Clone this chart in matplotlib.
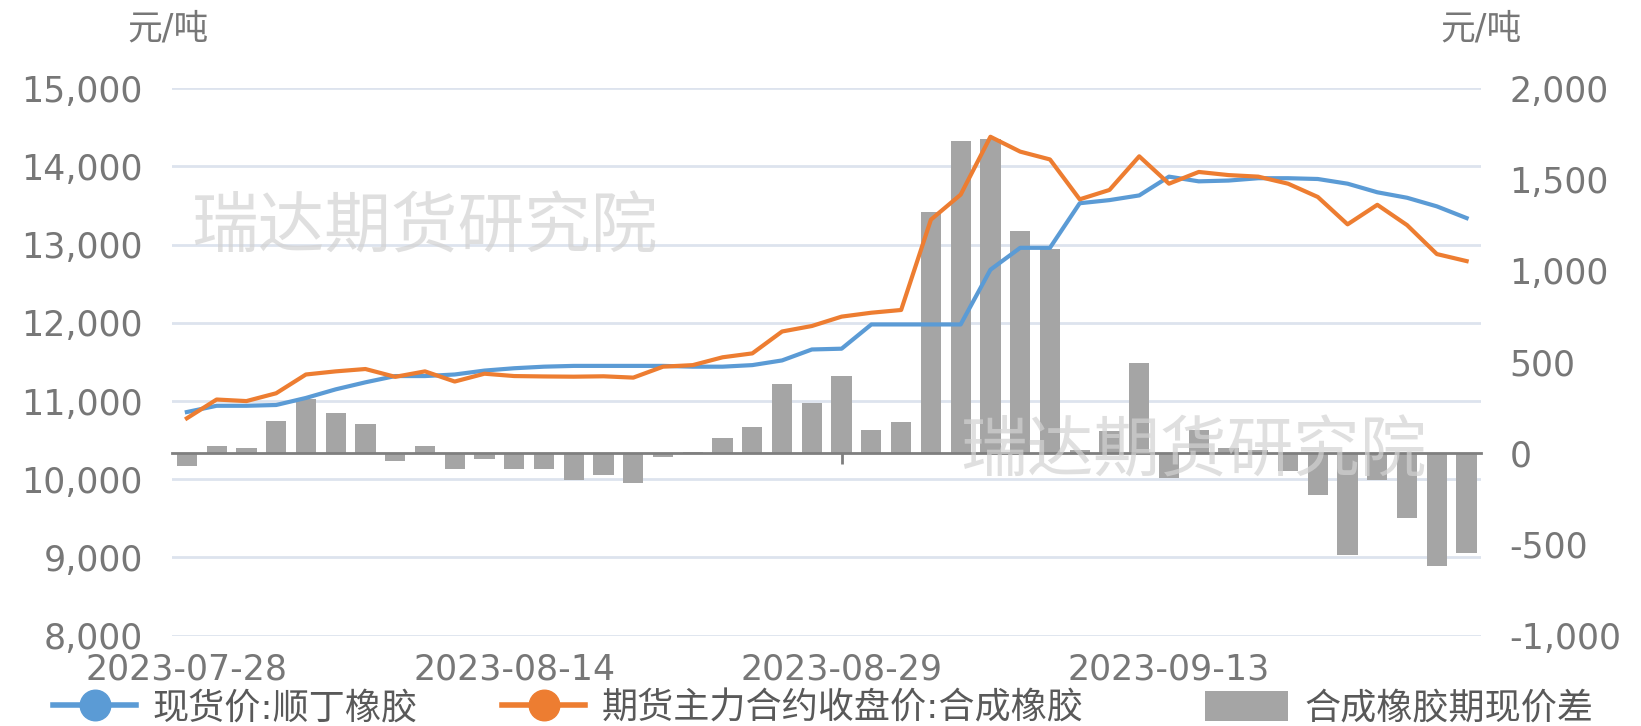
import matplotlib
matplotlib.use('Agg')
import matplotlib.pyplot as plt
from matplotlib.lines import Line2D
from matplotlib.patches import Patch
from matplotlib.ticker import FuncFormatter

plt.rcParams['font.family'] = ['DejaVu Sans', 'Noto Sans CJK SC']

# trading days shown on the category axis
dates = ['2023-07-28', '2023-07-31', '2023-08-01', '2023-08-02', '2023-08-03',
         '2023-08-04', '2023-08-07', '2023-08-08', '2023-08-09', '2023-08-10',
         '2023-08-11', '2023-08-14', '2023-08-15', '2023-08-16', '2023-08-17',
         '2023-08-18', '2023-08-21', '2023-08-22', '2023-08-23', '2023-08-24',
         '2023-08-25', '2023-08-28', '2023-08-29', '2023-08-30', '2023-08-31',
         '2023-09-01', '2023-09-04', '2023-09-05', '2023-09-06', '2023-09-07',
         '2023-09-08', '2023-09-11', '2023-09-12', '2023-09-13', '2023-09-14',
         '2023-09-15', '2023-09-18', '2023-09-19', '2023-09-20', '2023-09-21',
         '2023-09-22', '2023-09-25', '2023-09-26', '2023-09-27']

# 现货价:顺丁橡胶 (left axis)
spot = [10860, 10940, 10940, 10950, 11040, 11150, 11240, 11320, 11320, 11340,
        11390, 11420, 11440, 11450, 11450, 11450, 11450, 11440, 11440, 11460,
        11520, 11660, 11670, 11980, 11980, 11980, 11980, 12680, 12960, 12960,
        13530, 13570, 13630, 13870, 13810, 13820, 13850, 13850, 13840, 13780,
        13670, 13600, 13490, 13340]

# 期货主力合约收盘价:合成橡胶 (left axis)
futures = [10780, 11020, 11000, 11100, 11340, 11380, 11410, 11310, 11380, 11250,
           11350, 11320, 11315, 11312, 11317, 11300, 11440, 11460, 11560, 11610,
           11890, 11960, 12080, 12130, 12165, 13320, 13640, 14380, 14190, 14090,
           13580, 13700, 14130, 13780, 13930, 13890, 13870, 13780, 13610, 13260,
           13510, 13250, 12880, 12790]

# 合成橡胶期现价差 (right axis)
basis = [-70, 40, 27, 174, 297, 218, 158, -42, 40, -88,
         -30, -88, -88, -146, -119, -163, -20, 5, 86, 146,
         381, 277, 423, 127, 172, 1324, 1709, 1724, 1220, 1119,
         15, 120, 496, -136, 125, 30, 20, -100, -230, -556,
         -145, -355, -618, -545]

label_idx = [0, 11, 22, 33]

tick_color = '#777777'
blue = '#5b9bd5'
orange = '#ed7d31'
grey = '#a5a5a5'

fig = plt.figure(figsize=(16.41, 7.26), dpi=100)
ax = fig.add_axes([0.1048, 0.1244, 0.7980, 0.7540])   # grid, left ticks, dates
ax2 = ax.twinx()                                       # bars, right ticks
ax3 = ax.twinx()                                       # lines on top

x = list(range(len(dates)))

# ---- left axis / grid
ax.set_xlim(-0.5, len(dates) - 0.5)
ax.set_ylim(8000, 15000)
ax.set_yticks(range(8000, 15001, 1000))
ax.yaxis.set_major_formatter(FuncFormatter(lambda v, p: f'{v:,.0f}'))
ax.grid(axis='y', color='#dde3ee', lw=2)
ax.set_axisbelow(True)
ax.set_xticks(label_idx)
ax.set_xticklabels([dates[i] for i in label_idx])
ax.tick_params(axis='x', length=0, pad=12, labelsize=25, labelcolor=tick_color)
ax.tick_params(axis='y', length=0, pad=21, labelsize=25, labelcolor=tick_color)
for s in ax.spines.values():
    s.set_visible(False)

# ---- bars on right axis
ax2.bar(x, basis, width=0.68, color=grey, zorder=1)
ax2.set_ylim(-1000, 2000)
ax2.set_yticks(range(-1000, 2001, 500))
ax2.yaxis.set_major_formatter(FuncFormatter(lambda v, p: f'{v:,.0f}'))
ax2.tick_params(axis='y', length=0, pad=20, labelsize=25, labelcolor=tick_color)
for k in ['top', 'left', 'right']:
    ax2.spines[k].set_visible(False)
ax2.spines['bottom'].set_position(('data', 0))
ax2.spines['bottom'].set_color('#7f7f7f')
ax2.spines['bottom'].set_linewidth(2)
ax2.xaxis.set_visible(True)
ax2.xaxis.set_zorder(0.5)
ax2.tick_params(axis='x', direction='out', length=8, width=2, color='#7f7f7f',
                labelbottom=False)

# ---- lines
ax3.plot(x, spot, color=blue, lw=3, solid_joinstyle='round')
ax3.plot(x, futures, color=orange, lw=3, solid_joinstyle='round')
ax3.set_ylim(8000, 15000)
ax3.set_yticks([])
for s in ax3.spines.values():
    s.set_visible(False)

# unit labels
fig.text(168 / 1641, 1 - 28 / 726, '元/吨', fontsize=25, color=tick_color,
         ha='center', va='center')
fig.text(1481 / 1641, 1 - 28 / 726, '元/吨', fontsize=25, color=tick_color,
         ha='center', va='center')

# watermarks
wm = '瑞达期货研究院'
fig.text(424 / 1641, 1 - 229 / 726, wm, fontsize=48, color='#d2d2d2', alpha=0.7,
         ha='center', va='center', family=['Noto Sans CJK SC'])
fig.text(1193 / 1641, 1 - 453 / 726, wm, fontsize=48, color='#d2d2d2', alpha=0.7,
         ha='center', va='center', family=['Noto Sans CJK SC'])

# legend, one block per item so each sits where the original has it
items = [
    (Line2D([], [], color=blue, lw=4, marker='o', ms=22), '现货价:顺丁橡胶', 53),
    (Line2D([], [], color=orange, lw=4, marker='o', ms=22), '期货主力合约收盘价:合成橡胶', 502),
    (Patch(facecolor=grey, edgecolor='none'), '合成橡胶期现价差', 1205),
]
for h, lab, px in items:
    fig.legend([h], [lab], loc='center left', bbox_to_anchor=(px / 1641, 1 - 708 / 726),
               frameon=False, borderpad=0, borderaxespad=0, handletextpad=0.45,
               handlelength=2.3, handleheight=0.9, fontsize=26, labelcolor='#595959')

fig.savefig('out.png', dpi=100)
